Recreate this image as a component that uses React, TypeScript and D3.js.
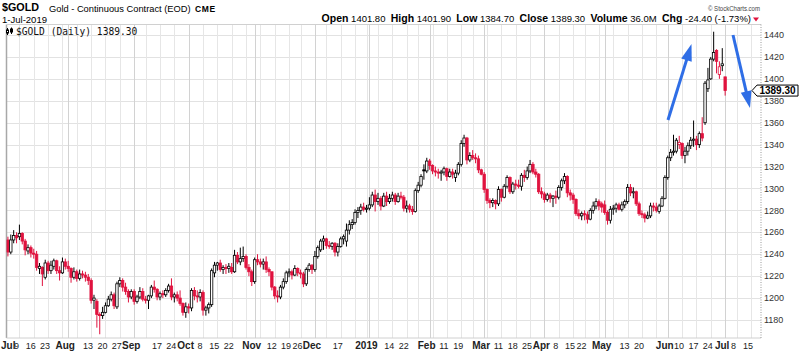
import React, { useEffect, useRef } from 'react';
import * as d3 from 'd3';

type Bar = [number, number, number, number]; // open, high, low, close

const jul2018: Bar[] = [
  [1253, 1256, 1238, 1242], [1242, 1258, 1240, 1253], [1253, 1262, 1250, 1257], [1257, 1260, 1250, 1255],
  [1256, 1267, 1253, 1259], [1259, 1260, 1249, 1252], [1252, 1254, 1239, 1244], [1243, 1249, 1240, 1246],
  [1246, 1248, 1237, 1241], [1241, 1245, 1236, 1240], [1240, 1243, 1225, 1228], [1227, 1232, 1222, 1229],
  [1228, 1229, 1211, 1222], [1219, 1235, 1217, 1232], [1232, 1234, 1222, 1225], [1225, 1234, 1222, 1230],
  [1229, 1236, 1226, 1234], [1234, 1235, 1222, 1225], [1225, 1229, 1216, 1223], [1223, 1237, 1222, 1233],
  [1233, 1236, 1226, 1229],
];
const aug2018: Bar[] = [
  [1229, 1234, 1224, 1227], [1227, 1228, 1214, 1219], [1219, 1228, 1217, 1224], [1224, 1226, 1215, 1218],
  [1218, 1226, 1216, 1222], [1222, 1225, 1218, 1221], [1221, 1224, 1215, 1219], [1219, 1222, 1212, 1216],
  [1216, 1218, 1195, 1198], [1198, 1203, 1190, 1200], [1197, 1199, 1173, 1185], [1185, 1187, 1167, 1184],
  [1184, 1192, 1181, 1187], [1187, 1196, 1186, 1193], [1193, 1202, 1192, 1199], [1199, 1206, 1197, 1203],
  [1203, 1205, 1190, 1193], [1192, 1215, 1190, 1213], [1213, 1219, 1210, 1216], [1216, 1218, 1206, 1210],
  [1210, 1214, 1203, 1206], [1206, 1208, 1196, 1201], [1201, 1208, 1199, 1206],
];
const sep2018: Bar[] = [
  [1206, 1208, 1194, 1197], [1197, 1203, 1195, 1201], [1201, 1210, 1199, 1206], [1206, 1209, 1197, 1199],
  [1199, 1202, 1195, 1198], [1198, 1203, 1190, 1202], [1202, 1212, 1200, 1210], [1210, 1216, 1205, 1208],
  [1208, 1209, 1198, 1201], [1201, 1206, 1198, 1204], [1204, 1207, 1200, 1203], [1203, 1209, 1201, 1207],
  [1207, 1213, 1205, 1211], [1211, 1218, 1198, 1201], [1201, 1205, 1196, 1203], [1203, 1206, 1197, 1200],
  [1200, 1207, 1193, 1195], [1195, 1196, 1184, 1187], [1187, 1196, 1182, 1192],
];
const oct2018: Bar[] = [
  [1192, 1195, 1186, 1191], [1191, 1209, 1188, 1207], [1207, 1210, 1198, 1202], [1202, 1207, 1196, 1201],
  [1201, 1208, 1197, 1205], [1205, 1207, 1184, 1189], [1189, 1193, 1184, 1191], [1191, 1196, 1186, 1194],
  [1194, 1227, 1192, 1225], [1223, 1233, 1219, 1230], [1230, 1233, 1225, 1232], [1232, 1235, 1224, 1226],
  [1226, 1230, 1222, 1228], [1228, 1231, 1222, 1227], [1227, 1232, 1223, 1229], [1228, 1232, 1222, 1224],
  [1224, 1244, 1223, 1239], [1239, 1242, 1231, 1233], [1233, 1246, 1230, 1236], [1236, 1247, 1233, 1238],
  [1238, 1240, 1226, 1228], [1228, 1231, 1220, 1224], [1224, 1226, 1211, 1215],
];
const nov2018: Bar[] = [
  [1215, 1237, 1213, 1235], [1235, 1240, 1230, 1233], [1233, 1236, 1228, 1231], [1231, 1236, 1226, 1233],
  [1233, 1238, 1223, 1226], [1226, 1228, 1220, 1224], [1224, 1224, 1207, 1210], [1210, 1211, 1199, 1202],
  [1202, 1207, 1196, 1201], [1201, 1212, 1199, 1210], [1210, 1218, 1208, 1215], [1215, 1225, 1213, 1223],
  [1223, 1227, 1219, 1224], [1224, 1226, 1217, 1221], [1221, 1230, 1220, 1227], [1227, 1228, 1220, 1223],
  [1223, 1226, 1218, 1222], [1222, 1224, 1210, 1213], [1213, 1228, 1211, 1226], [1226, 1232, 1224, 1230],
  [1230, 1231, 1222, 1226],
];
const dec2018: Bar[] = [
  [1226, 1243, 1224, 1238], [1238, 1248, 1236, 1246], [1244, 1254, 1242, 1252], [1252, 1257, 1244, 1254],
  [1254, 1255, 1245, 1248], [1248, 1252, 1245, 1247], [1247, 1251, 1244, 1250], [1250, 1251, 1238, 1242],
  [1242, 1250, 1238, 1247], [1247, 1256, 1246, 1254], [1254, 1258, 1249, 1256], [1252, 1268, 1247, 1262],
  [1262, 1271, 1258, 1267], [1267, 1272, 1263, 1269], [1269, 1281, 1267, 1278], [1278, 1283, 1273, 1280],
  [1280, 1286, 1276, 1283], [1283, 1287, 1279, 1281], [1281, 1285, 1278, 1282],
];
const jan2019: Bar[] = [
  [1282, 1292, 1280, 1285], [1285, 1297, 1283, 1294], [1294, 1299, 1279, 1288], [1288, 1296, 1285, 1291],
  [1291, 1293, 1280, 1284], [1284, 1296, 1283, 1293], [1293, 1297, 1284, 1288], [1288, 1295, 1286, 1291],
  [1291, 1297, 1288, 1294], [1294, 1296, 1285, 1288], [1288, 1296, 1287, 1293], [1293, 1297, 1290, 1292],
  [1292, 1294, 1279, 1282], [1282, 1289, 1278, 1284], [1284, 1286, 1278, 1281], [1281, 1284, 1276, 1279],
  [1279, 1300, 1278, 1298], [1298, 1306, 1296, 1303], [1303, 1313, 1301, 1311], [1317, 1322, 1308, 1316],
  [1316, 1328, 1314, 1325],
];
const feb2019: Bar[] = [
  [1325, 1327, 1317, 1321], [1321, 1322, 1313, 1316], [1316, 1320, 1311, 1315], [1315, 1318, 1309, 1314],
  [1314, 1317, 1307, 1315], [1315, 1320, 1312, 1318], [1318, 1319, 1307, 1311], [1311, 1318, 1310, 1315],
  [1315, 1318, 1309, 1313], [1310, 1317, 1306, 1314], [1314, 1324, 1312, 1322], [1322, 1344, 1320, 1341],
  [1341, 1349, 1338, 1346], [1346, 1347, 1322, 1326], [1326, 1333, 1324, 1330], [1330, 1335, 1326, 1328],
  [1328, 1332, 1323, 1327], [1327, 1330, 1314, 1317], [1317, 1318, 1312, 1313],
];
const mar2019: Bar[] = [
  [1313, 1315, 1296, 1299], [1299, 1300, 1286, 1289], [1289, 1291, 1282, 1287], [1287, 1291, 1283, 1289],
  [1289, 1290, 1281, 1286], [1286, 1302, 1284, 1299], [1299, 1300, 1288, 1292], [1292, 1304, 1291, 1302],
  [1302, 1312, 1300, 1310], [1310, 1311, 1295, 1297], [1297, 1306, 1295, 1304], [1304, 1308, 1299, 1303],
  [1303, 1308, 1300, 1302], [1302, 1314, 1298, 1312], [1312, 1317, 1306, 1310], [1310, 1320, 1308, 1316],
  [1316, 1326, 1314, 1322], [1322, 1324, 1313, 1315], [1315, 1318, 1310, 1313], [1313, 1314, 1295, 1297],
  [1297, 1301, 1291, 1295],
];
const apr2019: Bar[] = [
  [1295, 1297, 1287, 1290], [1290, 1296, 1288, 1294], [1294, 1296, 1287, 1291], [1291, 1294, 1283, 1293],
  [1293, 1298, 1286, 1292], [1292, 1303, 1290, 1301], [1301, 1309, 1298, 1307], [1307, 1314, 1304, 1311],
  [1311, 1312, 1292, 1296], [1296, 1299, 1289, 1294], [1294, 1296, 1286, 1290], [1290, 1291, 1275, 1277],
  [1277, 1281, 1272, 1275], [1275, 1279, 1271, 1277], [1277, 1280, 1271, 1276], [1276, 1279, 1268, 1272],
  [1272, 1282, 1271, 1280], [1280, 1288, 1277, 1284], [1284, 1291, 1281, 1288], [1288, 1290, 1280, 1284],
  [1286, 1288, 1278, 1283],
];
const may2019: Bar[] = [
  [1285, 1289, 1276, 1278], [1278, 1280, 1267, 1271], [1271, 1284, 1268, 1281], [1281, 1285, 1276, 1282],
  [1282, 1287, 1278, 1285], [1285, 1287, 1280, 1281], [1281, 1288, 1279, 1285], [1285, 1290, 1282, 1288],
  [1288, 1304, 1286, 1301], [1301, 1304, 1293, 1296], [1296, 1301, 1291, 1297], [1297, 1298, 1284, 1286],
  [1286, 1288, 1275, 1277], [1277, 1280, 1273, 1276], [1276, 1278, 1269, 1273], [1273, 1279, 1272, 1275],
  [1275, 1287, 1273, 1284], [1284, 1287, 1279, 1283], [1283, 1287, 1278, 1280], [1279, 1286, 1277, 1284],
  [1284, 1293, 1283, 1291], [1291, 1312, 1290, 1310],
];
const jun2019: Bar[] = [
  [1310, 1330, 1308, 1328], [1328, 1336, 1325, 1333], [1333, 1349, 1330, 1334], [1334, 1346, 1332, 1344],
  [1340, 1348, 1336, 1342], [1341, 1342, 1327, 1330], [1330, 1338, 1323, 1334], [1334, 1342, 1330, 1339],
  [1339, 1347, 1336, 1344], [1344, 1362, 1338, 1345], [1345, 1348, 1335, 1340], [1340, 1352, 1337, 1350],
  [1350, 1365, 1343, 1346], [1360, 1398, 1358, 1396], [1391, 1410, 1388, 1399], [1400, 1420, 1399, 1418],
  [1418, 1443, 1416, 1424], [1426, 1427, 1405, 1416], [1404, 1416, 1400, 1411], [1412, 1428, 1407, 1413.7],
];
const jul2019: Bar[] = [[1401.8, 1401.9, 1384.7, 1389.3]];

const closeBeforeStart = 1254;
const priceTicks = [1180, 1200, 1220, 1240, 1260, 1280, 1300, 1320, 1340, 1360, 1380, 1400, 1420, 1440];
const holidays = [
  '2018-07-04', '2018-09-03', '2018-11-22', '2018-12-05', '2018-12-25', '2019-01-01',
  '2019-01-21', '2019-02-18', '2019-04-19', '2019-05-27', '2019-07-04',
];
const dateLabels: [string, string][] = [
  ['2018-07-02', 'Jul'], ['2018-07-09', '9'], ['2018-07-16', '16'], ['2018-07-23', '23'],
  ['2018-08-01', 'Aug'], ['2018-08-13', '13'], ['2018-08-20', '20'], ['2018-08-27', '27'],
  ['2018-09-04', 'Sep'], ['2018-09-17', '17'], ['2018-09-24', '24'],
  ['2018-10-01', 'Oct'], ['2018-10-08', '8'], ['2018-10-15', '15'], ['2018-10-22', '22'],
  ['2018-11-01', 'Nov'], ['2018-11-12', '12'], ['2018-11-19', '19'], ['2018-11-26', '26'],
  ['2018-12-03', 'Dec'], ['2018-12-17', '17'],
  ['2019-01-02', '2019'], ['2019-01-14', '14'], ['2019-01-22', '22'],
  ['2019-02-01', 'Feb'], ['2019-02-11', '11'], ['2019-02-19', '19'],
  ['2019-03-01', 'Mar'], ['2019-03-11', '11'], ['2019-03-18', '18'], ['2019-03-25', '25'],
  ['2019-04-01', 'Apr'], ['2019-04-08', '8'], ['2019-04-15', '15'], ['2019-04-22', '22'],
  ['2019-05-01', 'May'], ['2019-05-13', '13'], ['2019-05-20', '20'],
  ['2019-06-03', 'Jun'], ['2019-06-10', '10'], ['2019-06-17', '17'], ['2019-06-24', '24'],
  ['2019-07-01', 'Jul'], ['2019-07-08', '8'], ['2019-07-15', '15'],
];
const monthNames = ['Jan', 'Feb', 'Mar', 'Apr', 'May', 'Jun', 'Jul', 'Aug', 'Sep', 'Oct', 'Nov', 'Dec', '2019'];

const RED = '#e0133f';
const BLUE = '#2f6ee6';
const FONT = '"Liberation Sans", Arial, sans-serif';

const GoldChart: React.FC = () => {
  const svgRef = useRef<SVGSVGElement | null>(null);

  useEffect(() => {
    if (!svgRef.current) return;
    const fullWidth = 800;
    const fullHeight = 353;
    const plot = { left: 6.5, right: 761, top: 24.5, bottom: 338 };

    const svg = d3.select(svgRef.current).attr('width', fullWidth).attr('height', fullHeight);
    svg.selectAll('*').remove();
    svg.append('rect').attr('width', fullWidth).attr('height', fullHeight).attr('fill', '#fff');

    // trading calendar
    const fmt = d3.timeFormat('%Y-%m-%d');
    const days = d3.timeDay
      .range(new Date(2018, 6, 2), new Date(2019, 6, 19))
      .filter(d => d.getDay() !== 0 && d.getDay() !== 6 && !holidays.includes(fmt(d)));
    const keys = days.map(fmt);

    const all: Bar[] = [
      ...jul2018, ...aug2018, ...sep2018, ...oct2018, ...nov2018, ...dec2018,
      ...jan2019, ...feb2019, ...mar2019, ...apr2019, ...may2019, ...jun2019, ...jul2019,
    ];
    const bars = all.map((b, i) => ({
      key: keys[i], o: b[0], h: b[1], l: b[2], c: b[3],
      prev: i === 0 ? closeBeforeStart : all[i - 1][3],
    }));

    // scales
    const x = d3.scaleBand<string>().domain(keys).range([plot.left, plot.right]).padding(0);
    const bw = x.bandwidth();
    const cx = (k: string) => (x(k) as number) + bw / 2;
    const y = d3.scaleLinear().domain([1180, 1440]).range([320, 35]);

    const defs = svg.append('defs');
    defs.append('clipPath').attr('id', 'plot-clip')
      .append('rect')
      .attr('x', plot.left).attr('y', plot.top)
      .attr('width', plot.right - plot.left).attr('height', plot.bottom - plot.top);

    // grid
    const grid = svg.append('g');
    grid.selectAll('line.h').data(priceTicks).join('line')
      .attr('class', 'h')
      .attr('x1', plot.left).attr('x2', plot.right)
      .attr('y1', d => Math.round(y(d)) + 0.5).attr('y2', d => Math.round(y(d)) + 0.5)
      .attr('stroke', '#e2e2e2');

    const weekStarts = days.filter((d, i) => i === 0 || +d3.timeMonday.floor(d) !== +d3.timeMonday.floor(days[i - 1]));
    const monthStarts = new Set(days.filter((d, i) => i > 0 && d.getMonth() !== days[i - 1].getMonth()).map(fmt));
    grid.selectAll('line.v').data(weekStarts.slice(1)).join('line')
      .attr('class', 'v')
      .attr('x1', d => Math.round(cx(fmt(d))) + 0.5).attr('x2', d => Math.round(cx(fmt(d))) + 0.5)
      .attr('y1', plot.top).attr('y2', plot.bottom)
      .attr('stroke', d => (monthStarts.has(fmt(d)) ? '#cfcfcf' : '#e6e6e6'));
    grid.selectAll('line.m').data(Array.from(monthStarts)).join('line')
      .attr('class', 'm')
      .attr('x1', d => Math.round(cx(d)) + 0.5).attr('x2', d => Math.round(cx(d)) + 0.5)
      .attr('y1', plot.top).attr('y2', plot.bottom)
      .attr('stroke', '#d2d2d2');

    // frame
    svg.append('line')
      .attr('x1', plot.left).attr('x2', plot.left).attr('y1', plot.top).attr('y2', plot.bottom)
      .attr('stroke', '#a8a8a8').attr('stroke-width', 1.5);
    svg.append('line')
      .attr('x1', plot.left).attr('x2', plot.right).attr('y1', plot.top).attr('y2', plot.top)
      .attr('stroke', '#d0d0d0');
    svg.append('line')
      .attr('x1', plot.left).attr('x2', plot.right).attr('y1', plot.bottom).attr('y2', plot.bottom)
      .attr('stroke', '#d0d0d0');
    svg.append('line')
      .attr('x1', plot.right).attr('x2', plot.right).attr('y1', plot.top).attr('y2', plot.bottom)
      .attr('stroke', '#999').attr('stroke-dasharray', '1,1.5');

    // candles
    const candles = svg.append('g').attr('clip-path', 'url(#plot-clip)');
    bars.forEach(b => {
      const col = b.c >= b.prev ? '#000' : RED;
      const hollow = b.c > b.o;
      const xc = cx(b.key);
      candles.append('line')
        .attr('x1', xc).attr('x2', xc)
        .attr('y1', y(b.h)).attr('y2', y(b.l))
        .attr('stroke', col).attr('stroke-width', 1);
      const top = y(Math.max(b.o, b.c));
      const h = Math.max(0.8, Math.abs(y(b.o) - y(b.c)));
      candles.append('rect')
        .attr('x', xc - 1.2).attr('width', 2.4)
        .attr('y', top).attr('height', h)
        .attr('fill', hollow ? '#fff' : col)
        .attr('stroke', col).attr('stroke-width', 0.8);
    });

    // y axis labels
    svg.append('g').selectAll('text').data(priceTicks).join('text')
      .attr('x', 764).attr('y', d => y(d)).attr('dy', '0.35em')
      .attr('font-family', FONT).attr('font-size', 9).attr('fill', '#333')
      .text(d => d);

    // x axis labels
    const xl = svg.append('g').attr('font-family', FONT);
    dateLabels.forEach(([k, label], i) => {
      const isMonth = monthNames.includes(label);
      const t = xl.append('text')
        .attr('x', cx(k) - 3).attr('y', 349)
        .attr('text-anchor', 'middle')
        .attr('font-size', isMonth ? 10 : 9)
        .attr('font-weight', isMonth ? 'bold' : 'normal')
        .attr('fill', '#222')
        .text(label);
      if (i === 0) t.attr('x', 1).attr('text-anchor', 'start');
    });

    // current price flag
    const py = y(1389.3);
    svg.append('path')
      .attr('d', `M752,${py} L757,${py - 5.5} L798,${py - 5.5} L798,${py + 5.5} L757,${py + 5.5} Z`)
      .attr('fill', '#fff').attr('stroke', '#000').attr('stroke-width', 1);
    svg.append('text')
      .attr('x', 777.5).attr('y', py).attr('dy', '0.36em').attr('text-anchor', 'middle')
      .attr('font-family', FONT).attr('font-size', 10).attr('font-weight', 'bold')
      .text('1389.30');

    // annotation arrows
    const arrow = (x0: number, y0: number, x1: number, y1: number) => {
      const len = Math.hypot(x1 - x0, y1 - y0);
      const ux = (x1 - x0) / len;
      const uy = (y1 - y0) / len;
      const hl = 17;
      const hw = 5.5;
      const bx = x1 - ux * hl;
      const by = y1 - uy * hl;
      svg.append('line')
        .attr('x1', x0).attr('y1', y0).attr('x2', bx + ux * 2).attr('y2', by + uy * 2)
        .attr('stroke', BLUE).attr('stroke-width', 3);
      svg.append('polygon')
        .attr('points', `${x1},${y1} ${bx - uy * hw},${by + ux * hw} ${bx + uy * hw},${by - ux * hw}`)
        .attr('fill', BLUE);
    };
    arrow(668, 120, 691.5, 44);
    arrow(733, 35, 750, 108);

    // legend inside plot
    const icon = svg.append('g').attr('stroke', '#000').attr('stroke-width', 1);
    icon.append('line').attr('x1', 7.5).attr('x2', 7.5).attr('y1', 28).attr('y2', 35);
    icon.append('rect').attr('x', 6.5).attr('y', 30).attr('width', 2).attr('height', 3).attr('fill', '#fff');
    icon.append('line').attr('x1', 11.5).attr('x2', 11.5).attr('y1', 27.5).attr('y2', 34);
    icon.append('rect').attr('x', 10.5).attr('y', 29).attr('width', 2).attr('height', 3).attr('fill', '#000');
    svg.append('text')
      .attr('x', 16).attr('y', 34.5)
      .attr('font-family', '"DejaVu Sans Mono", monospace').attr('font-size', 9.6)
      .attr('fill', '#111')
      .text('$GOLD (Daily) 1389.30');

    // header
    svg.append('text')
      .attr('x', 2).attr('y', 11)
      .attr('font-family', FONT).attr('font-size', 11.5).attr('font-weight', 'bold')
      .attr('textLength', 37).attr('lengthAdjust', 'spacingAndGlyphs')
      .text('$GOLD');
    svg.append('text')
      .attr('x', 49).attr('y', 11.5)
      .attr('font-family', FONT).attr('font-size', 9.3)
      .text('Gold - Continuous Contract (EOD)');
    svg.append('text')
      .attr('x', 195).attr('y', 11.5)
      .attr('font-family', FONT).attr('font-size', 8.5).attr('font-weight', 'bold')
      .attr('letter-spacing', 0.6)
      .text('CME');
    svg.append('text')
      .attr('x', 2).attr('y', 22.5)
      .attr('font-family', FONT).attr('font-size', 9)
      .attr('textLength', 45).attr('lengthAdjust', 'spacingAndGlyphs')
      .text('1-Jul-2019');

    svg.append('text')
      .attr('x', 760).attr('y', 11).attr('text-anchor', 'end')
      .attr('font-family', FONT).attr('font-size', 7).attr('fill', '#444')
      .attr('textLength', 52).attr('lengthAdjust', 'spacingAndGlyphs')
      .text('\u00a9 StockCharts.com');

    const quote: [string, boolean][] = [
      ['Open', true], [' 1401.80  ', false], ['High', true], [' 1401.90  ', false],
      ['Low', true], [' 1384.70  ', false], ['Close', true], [' 1389.30  ', false],
      ['Volume', true], [' 36.0M  ', false], ['Chg', true], [' -24.40 (-1.73%)', false],
    ];
    const qt = svg.append('text')
      .attr('x', 751).attr('y', 21.5).attr('text-anchor', 'end')
      .attr('font-family', FONT).attr('xml:space', 'preserve')
      .style('white-space', 'pre');
    quote.forEach(([s, bold]) => {
      qt.append('tspan')
        .attr('font-size', bold ? 10.5 : 9.5)
        .attr('font-weight', bold ? 'bold' : 'normal')
        .text(s);
    });
    svg.append('polygon')
      .attr('points', '753,17.5 759,17.5 756,21.5')
      .attr('fill', RED);
  }, []);

  return (
    <div style={{ position: 'absolute', left: 0, top: 0, width: 800, height: 353, background: '#fff' }}>
      <svg ref={svgRef} style={{ display: 'block' }} />
    </div>
  );
};

export default function App() {
  return <GoldChart />;
}
